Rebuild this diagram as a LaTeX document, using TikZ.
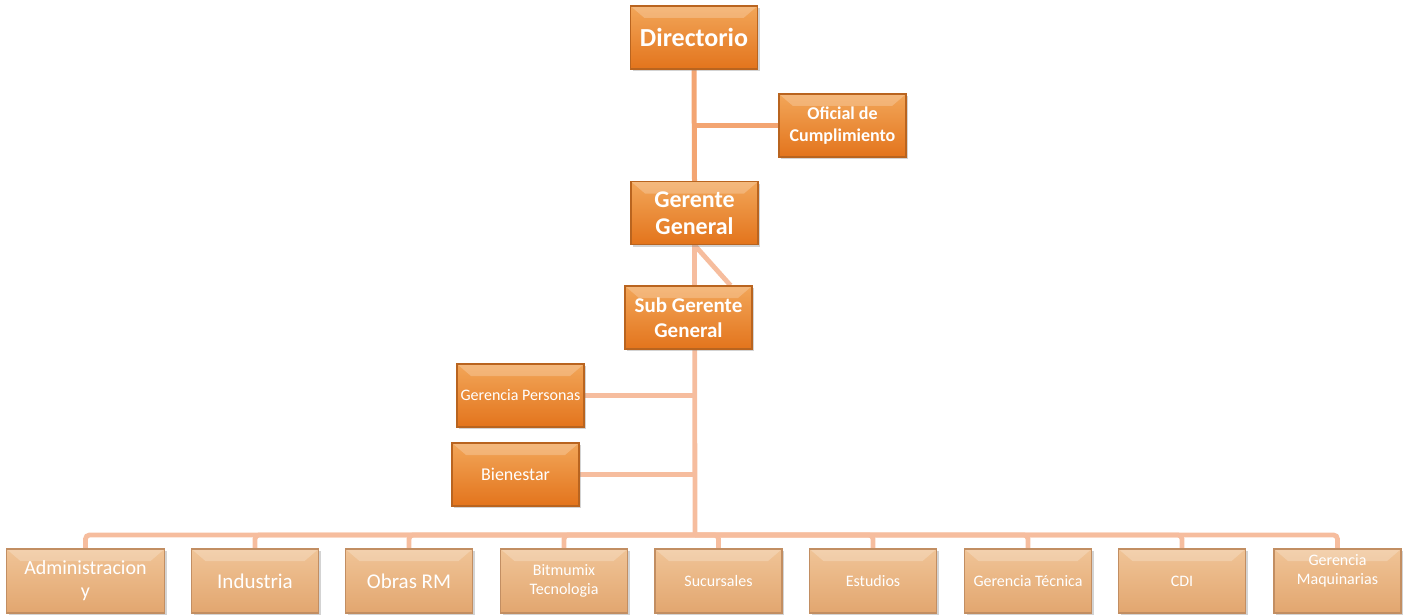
\documentclass[tikz,border=0pt]{standalone}
\usepackage{fontspec}
\setmainfont{Carlito}
\usetikzlibrary{shadows,backgrounds}

\definecolor{boxtop}{HTML}{F2A659}
\definecolor{boxbot}{HTML}{E3741C}
\definecolor{boxline}{HTML}{B9641F}
\definecolor{tantop}{HTML}{F0C497}
\definecolor{tanbot}{HTML}{E2A66F}
\definecolor{tanline}{HTML}{C28E62}
\definecolor{linkup}{HTML}{F3A572}
\definecolor{linklow}{HTML}{F6BD9E}

\begin{document}
\begin{tikzpicture}[
      x=0.5pt, y=-0.5pt,
      bevel/.style={path picture={
        \fill[white, opacity=0.22] (path picture bounding box.north west) -- (path picture bounding box.north east)
          -- ([xshift=-7pt, yshift=-6pt]path picture bounding box.north east)
          -- ([xshift=7pt, yshift=-6pt]path picture bounding box.north west) -- cycle;}},
      box/.style={minimum width=63.5pt, minimum height=31.5pt, inner sep=1pt, align=center, text=white,
        draw=boxline, line width=0.6pt, top color=boxtop, bottom color=boxbot, bevel,
        drop shadow={shadow xshift=1.2pt, shadow yshift=-1.2pt, opacity=0.35}},
      headbox/.style={box, font=\bfseries},
      tanbox/.style={box, draw=tanline, top color=tantop, bottom color=tanbot, minimum height=32pt},
      tanbig/.style={tanbox, font=\fontsize{10.5}{12}\selectfont},
      tanwide/.style={tanbox, minimum width=79pt, font=\fontsize{10}{11.5}\selectfont},
      tansmall/.style={tanbox, font=\fontsize{8}{9.5}\selectfont},
      link/.style={draw=linkup, line width=2.5pt},
      lowlink/.style={draw=linklow, line width=2.4pt, rounded corners=2pt}
    ]
    \useasboundingbox (0,0) rectangle (1403,615);

    % Top of the chart
    \node[headbox, font=\bfseries\fontsize{13}{15}\selectfont] (dir) at (694,37.5) {Directorio};
    \node[headbox, font=\bfseries\fontsize{9}{11}\selectfont] (ofi) at (842.5,125.5) {Oficial de\\Cumplimiento};
    \node[headbox, font=\bfseries\fontsize{12}{13.5}\selectfont] (gg) at (694.5,213) {Gerente\\General};
    \node[headbox, font=\bfseries\fontsize{10.5}{12.5}\selectfont] (sub) at (688.5,317.5) {Sub Gerente\\General};

    % Staff boxes
    \node[box, font=\fontsize{8}{9.5}\selectfont] (gp) at (520.5,395.5) {Gerencia Personas};
    \node[box, font=\fontsize{9}{11}\selectfont] (bie) at (515.5,474.5) {Bienestar};

    % Bottom row
    \foreach \n/\x/\s/\t in {adm/85.5/tanwide/{Administracion\\y}, ind/255/tanbig/Industria, obr/409/tanbig/Obras RM,
        bit/564/tansmall/{Bitmumix\\Tecnologia}, suc/718.5/tansmall/Sucursales, est/873/tansmall/Estudios,
        tec/1028/tansmall/Gerencia Técnica, cdi/1182/tansmall/CDI, maq/1337.5/tansmall/{Gerencia\\Maquinarias\\[2pt]\mbox{}}} {
      \node[\s] (\n) at (\x,581) {\t};
    }

    \coordinate (bus) at (695,535);

    % Connectors
    \begin{scope}[on background layer]
      \draw[link] (dir.south) -- (gg.north);
      \draw[link] (dir.south |- ofi.west) -- (ofi.west);
      \draw[lowlink] (gg.south) -- ([xshift=21pt]sub.north);
      \draw[lowlink] (gg.south) -- (bus);
      \draw[lowlink] (gp.east) -- (gp.east -| bus);
      \draw[lowlink] (bie.east) -- (bie.east -| bus);
      \foreach \n in {adm,ind,obr,bit,suc,est,tec,cdi,maq} {
        \draw[lowlink] (bus) -| (\n.north);
      }
    \end{scope}
  \end{tikzpicture}
\end{document}
